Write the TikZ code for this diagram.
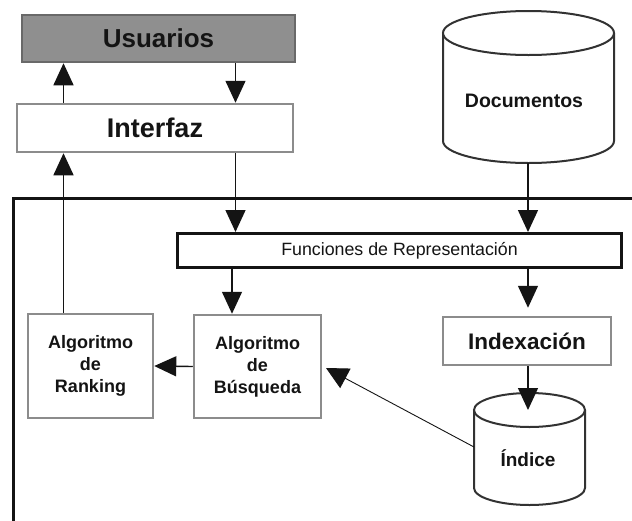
\documentclass[tikz,border=0pt]{standalone}
\usepackage{fontspec}
\setmainfont{Liberation Sans}
\usetikzlibrary{arrows.meta}
\definecolor{usrfill}{RGB}{143,143,143}
\definecolor{usrborder}{RGB}{105,105,105}
\definecolor{boxgray}{RGB}{140,140,140}
\definecolor{cylgray}{RGB}{50,50,50}
\definecolor{ink}{RGB}{20,20,20}
\newcommand{\myfs}[2]{\fontsize{#1}{#2}\selectfont}
\tikzset{
  graybox/.style={draw=boxgray, line width=2.5pt, fill=white, inner sep=0pt},
  cylline/.style={draw=cylgray, line width=2pt, fill=white},
  arr/.style={-{Triangle[length=22pt,width=20pt]}, line width=1.4pt, draw=ink},
  thinarr/.style={-{Triangle[length=22pt,width=22pt]}, line width=0.9pt, draw=ink},
  frame/.style={line width=3pt, draw=ink},
}
\begin{document}
\begin{tikzpicture}[x=1pt,y=-1pt]
\useasboundingbox (0,0) rectangle (632,520);
\clip (0,0) rectangle (632,520);
\fill[white] (0,0) rectangle (632,520);

% outer frame
\draw[frame] (640,198) -- (13,198) -- (13,530);

% column coordinates
\coordinate (cA) at (63.5,0);
\coordinate (cB) at (235.5,0);
\coordinate (cC) at (528,0);
\coordinate (cD) at (232,0);

% boxes
\node[graybox, fill=usrfill, draw=usrborder, minimum width=273pt, minimum height=47pt,
      font=\bfseries\myfs{26pt}{26pt}, text=ink] (usr) at (158.5,38.5) {Usuarios};
\node[graybox, minimum width=276pt, minimum height=48pt,
      font=\bfseries\myfs{27pt}{27pt}, text=ink] (intf) at (155,128) {Interfaz};
\node[graybox, draw=ink, line width=3pt, minimum width=444pt, minimum height=34pt,
      font=\myfs{17.8pt}{17.8pt}, text=ink] (fr) at (399.5,250.5) {Funciones de Representación};
\node[graybox, minimum width=127pt, minimum height=103pt, align=center,
      font=\bfseries\myfs{18pt}{22pt}, text=ink] (bus) at (257.5,366.5) {Algoritmo\\de\\Búsqueda};
\node[graybox, minimum width=125pt, minimum height=104pt, align=center,
      font=\bfseries\myfs{18pt}{22pt}, text=ink] (rnk) at (90.5,366) {Algoritmo\\de\\Ranking};
\node[graybox, minimum width=168pt, minimum height=48pt,
      font=\bfseries\myfs{22.5pt}{22.5pt}, text=ink] (idx) at (527,341) {Indexación};

% Documentos cylinder
\filldraw[cylline] (443,33) -- (443,141)
  arc[start angle=180, end angle=360, x radius=85.5pt, y radius=22pt] -- (614,33);
\draw[cylline] (528.5,33) ellipse [x radius=85.5pt, y radius=22pt];
\node[font=\bfseries\myfs{19.5pt}{19.5pt}, text=ink] (doc) at (524,101) {Documentos};
\coordinate (docB) at (528,163);

% Indice cylinder
\filldraw[cylline] (474,410) -- (474,488)
  arc[start angle=180, end angle=360, x radius=55.5pt, y radius=17pt] -- (585,410);
\draw[cylline] (529.5,410) ellipse [x radius=55.5pt, y radius=17pt];
\node[font=\bfseries\myfs{19pt}{19pt}, text=ink] (ind) at (528,458) {Índice};
\coordinate (indT) at (528,410);
\coordinate (indL) at (474,447);
\coordinate (busR) at (326,368);

% connectors
\draw[arr] (intf.north -| cA) -- (usr.south -| cA);
\draw[arr] (usr.south -| cB) -- (intf.north -| cB);
\draw[arr] (rnk.north -| cA) -- (intf.south -| cA);
\draw[arr] (intf.south -| cB) -- (fr.north -| cB);
\draw[arr] (docB) -- (fr.north -| docB);
\draw[arr] (fr.south -| cD) -- (bus.north -| cD);
\draw[arr, shorten >=8pt] (fr.south -| cC) -- (idx.north -| cC);
\draw[arr] (bus.west) -- (rnk.east);
\draw[arr] (idx.south -| cC) -- (indT);
\draw[thinarr] (indL) -- (busR);
\end{tikzpicture}
\end{document}
